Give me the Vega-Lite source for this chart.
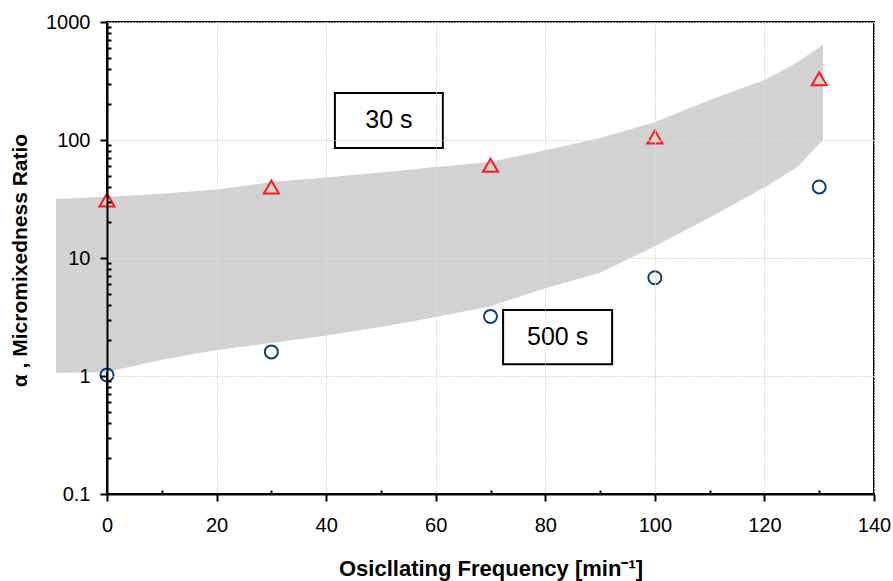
{
  "$schema": "https://vega.github.io/schema/vega-lite/v6.json",
  "width": 767,
  "height": 472,
  "autosize": "none",
  "padding": {"left": 107, "top": 22, "right": 19, "bottom": 87},
  "background": "white",
  "config": {
    "view": {"stroke": "#000000", "strokeWidth": 2},
    "font": "Liberation Sans"
  },
  "datasets": {
    "band": [
      {"freq": -9.3, "upper": 31.6, "lower": 1.06},
      {"freq": 0, "upper": 33, "lower": 1.08},
      {"freq": 10, "upper": 35, "lower": 1.37},
      {"freq": 20, "upper": 38, "lower": 1.66},
      {"freq": 30, "upper": 44, "lower": 1.9},
      {"freq": 40, "upper": 48, "lower": 2.2},
      {"freq": 50, "upper": 53, "lower": 2.6},
      {"freq": 60, "upper": 59, "lower": 3.16},
      {"freq": 70, "upper": 65, "lower": 3.9},
      {"freq": 79, "upper": 80, "lower": 5.35},
      {"freq": 90, "upper": 104, "lower": 7.5},
      {"freq": 99.7, "upper": 140, "lower": 12.4},
      {"freq": 110, "upper": 218, "lower": 22},
      {"freq": 120.5, "upper": 330, "lower": 41},
      {"freq": 126, "upper": 457, "lower": 59},
      {"freq": 130.7, "upper": 640, "lower": 100}
    ],
    "t30": [
      {"freq": 0, "alpha": 31},
      {"freq": 30, "alpha": 40},
      {"freq": 70, "alpha": 61},
      {"freq": 100, "alpha": 106},
      {"freq": 130, "alpha": 330}
    ],
    "t500": [
      {"freq": 0, "alpha": 1.02},
      {"freq": 30, "alpha": 1.6},
      {"freq": 70, "alpha": 3.2},
      {"freq": 100, "alpha": 6.8},
      {"freq": 130, "alpha": 40}
    ],
    "labels": [
      {"label": "30 s", "x1": 41.6, "x2": 61.3, "y1": 85.5, "y2": 250, "xc": 51.45, "yc": 147},
      {"label": "500 s", "x1": 72.3, "x2": 92.2, "y1": 1.26, "y2": 3.63, "xc": 82.25, "yc": 2.14}
    ]
  },
  "resolve": {"axis": {"x": "independent", "y": "independent"}},
  "layer": [
    {
      "data": {"name": "band"},
      "mark": {"type": "area", "fill": "#d2d2d2", "opacity": 1, "clip": false},
      "encoding": {
        "x": {
          "field": "freq", "type": "quantitative",
          "scale": {"domain": [0, 140], "nice": false, "zero": false},
          "axis": {
            "orient": "bottom",
            "values": [0, 20, 40, 60, 80, 100, 120, 140],
            "title": "Osicllating Frequency [min⁻¹]",
            "titleFont": "Liberation Sans", "titleFontSize": 22, "titleFontWeight": "bold", "titleColor": "#000000",
            "titleY": 74, "titleBaseline": "middle",
            "labelFont": "Liberation Sans", "labelFontSize": 20, "labelColor": "#000000", "labelPadding": 14,
            "labelFlush": false,
            "domainColor": "#000000", "domainWidth": 2,
            "tickColor": "#000000", "tickWidth": 2, "tickSize": 7,
            "grid": true, "gridColor": "#dcdcdc", "gridWidth": 1, "gridDash": [2, 1],
            "zindex": 1
          }
        },
        "y": {
          "field": "upper", "type": "quantitative",
          "scale": {"type": "log", "domain": [0.1, 1000], "nice": false},
          "axis": {
            "orient": "left",
            "values": [0.1, 1, 10, 100, 1000],
            "labelExpr": "datum.value",
            "title": "α , Micromixedness Ratio",
            "titleFont": "Liberation Sans", "titleFontSize": 21, "titleFontWeight": "bold", "titleColor": "#000000",
            "titleAngle": -90, "titleX": -87, "titleY": 238, "titleBaseline": "middle", "titleAlign": "center",
            "labelFont": "Liberation Sans", "labelFontSize": 20, "labelColor": "#000000", "labelPadding": 10,
            "labelFlush": false,
            "domainColor": "#000000", "domainWidth": 2,
            "tickColor": "#000000", "tickWidth": 2, "tickSize": 7,
            "grid": true, "gridColor": "#dcdcdc", "gridWidth": 1, "gridDash": [2, 1],
            "zindex": 1
          }
        },
        "y2": {"field": "lower"}
      }
    },
    {
      "data": {"name": "t30"},
      "mark": {"type": "point", "shape": "triangle-up", "filled": false, "stroke": "#ff1a1a", "strokeWidth": 2, "size": 225, "opacity": 1},
      "encoding": {
        "x": {
          "field": "freq", "type": "quantitative",
          "axis": {
            "orient": "bottom", "values": [10, 30, 50, 70, 90, 110, 130],
            "labels": false, "domain": false, "grid": false, "title": null,
            "tickColor": "#000000", "tickWidth": 2, "tickSize": -4, "zindex": 1
          }
        },
        "y": {
          "field": "alpha", "type": "quantitative",
          "axis": {
            "orient": "left",
            "values": [0.2, 0.3, 0.4, 0.5, 0.6, 0.7, 0.8, 0.9, 2, 3, 4, 5, 6, 7, 8, 9, 20, 30, 40, 50, 60, 70, 80, 90, 200, 300, 400, 500, 600, 700, 800, 900],
            "labels": false, "domain": false, "grid": false, "title": null,
            "tickColor": "#000000", "tickWidth": 2, "tickSize": -4, "zindex": 1
          }
        }
      }
    },
    {
      "data": {"name": "t500"},
      "mark": {"type": "point", "shape": "circle", "filled": false, "stroke": "#0b3c7c", "strokeWidth": 2, "size": 169, "opacity": 1},
      "encoding": {
        "x": {"field": "freq", "type": "quantitative", "axis": null},
        "y": {"field": "alpha", "type": "quantitative", "axis": null}
      }
    },
    {
      "data": {"name": "labels"},
      "mark": {"type": "rect", "fill": "#ffffff", "stroke": "#000000", "strokeWidth": 2},
      "encoding": {
        "x": {"field": "x1", "type": "quantitative", "axis": null},
        "x2": {"field": "x2"},
        "y": {"field": "y1", "type": "quantitative", "axis": null},
        "y2": {"field": "y2"}
      }
    },
    {
      "data": {"name": "labels"},
      "mark": {"type": "text", "font": "Liberation Sans", "fontSize": 25, "color": "#000000", "align": "center", "baseline": "middle"},
      "encoding": {
        "x": {"field": "xc", "type": "quantitative", "axis": null},
        "y": {"field": "yc", "type": "quantitative", "axis": null},
        "text": {"field": "label"}
      }
    }
  ]
}
